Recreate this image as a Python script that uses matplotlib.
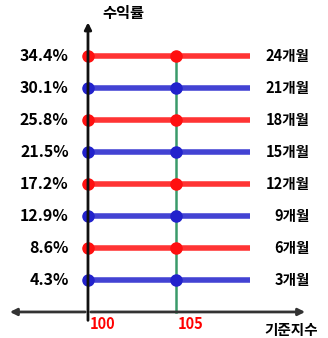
import matplotlib
matplotlib.use("Agg")
import matplotlib.pyplot as plt

plt.rcParams['font.family'] = ['Noto Sans CJK KR', 'DejaVu Sans']

periods = ["3개월", "6개월", "9개월", "12개월", "15개월", "18개월", "21개월", "24개월"]
yields = [4.3, 8.6, 12.9, 17.2, 21.5, 25.8, 30.1, 34.4]
colors = ["#2222cc", "#ff1010", "#2222cc", "#ff1010", "#2222cc", "#ff1010", "#2222cc", "#ff1010"]
index_ticks = [100, 105]
line_end = 109.2
ylabel = "수익률"
xlabel = "기준지수"

fig = plt.figure(figsize=(3.28, 3.38), dpi=100)
ax = fig.add_axes([0, 0, 1, 1])
ax.set_xlim(95.0, 113.64)
ax.set_ylim(-3.5, 41.93)
ax.axis('off')

# green vertical line at 105
ax.plot([index_ticks[1], index_ticks[1]], [0.0, yields[-1]], color="#3a9a6a", lw=1.8, zorder=1)

for y, c, p in zip(yields, colors, periods):
    ax.plot([index_ticks[0], line_end], [y, y], color=c, lw=4, alpha=0.85, solid_capstyle='butt', zorder=2)
    ax.plot(index_ticks, [y, y], 'o', color=c, ms=8, zorder=3)
    ax.text(98.9, y, f"{y}%", ha='right', va='center', fontsize=11.5, fontweight='bold')
    ax.text(112.6, y, p, ha='right', va='center', fontsize=10.5, fontweight='bold')

# axes
ax.annotate("", xy=(95.4, 0.0), xytext=(100, 0.0),
            arrowprops=dict(arrowstyle='-|>', color='#333333', lw=2, mutation_scale=10))
ax.annotate("", xy=(112.5, 0.0), xytext=(100, 0.0),
            arrowprops=dict(arrowstyle='-|>', color='#333333', lw=2, mutation_scale=10))
ax.annotate("", xy=(100, 39.3), xytext=(100, -1.5),
            arrowprops=dict(arrowstyle='-|>', color='#111111', lw=2, mutation_scale=10))

for t in index_ticks:
    ax.text(t + 0.1, -1.6, str(t), ha='left', va='center', fontsize=10.5, fontweight='bold', color='#ff0000')

ax.text(110.0, -2.4, xlabel, ha='left', va='center', fontsize=10.5, fontweight='bold')
ax.text(100.8, 40.2, ylabel, ha='left', va='center', fontsize=11, fontweight='bold')

fig.savefig("out.png", dpi=100)
